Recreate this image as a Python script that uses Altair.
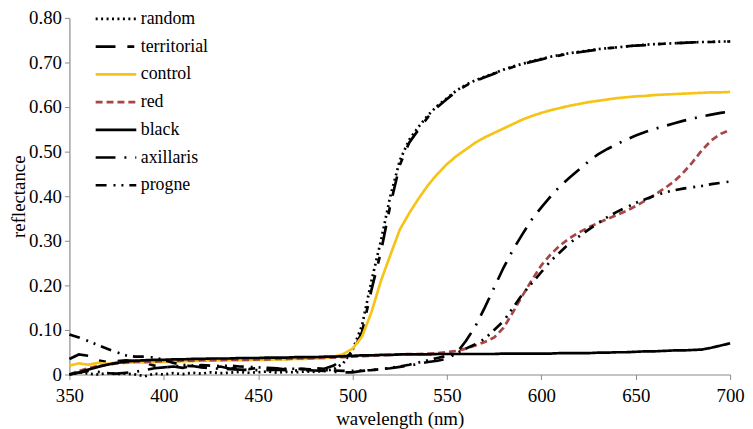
import altair as alt
import pandas as pd

wavelength = list(range(350, 701, 5))

random_ = [0.0,0.005,0.002,0.0,0.003,0.001,0.002,0.0,-0.004,0.002,
           0.0,0.003,0.001,0.004,0.002,0.005,0.003,0.004,0.006,0.004,
           0.005,0.007,0.004,0.006,0.005,0.007,0.006,0.008,0.012,0.025,
           0.055,0.11,0.21,0.30,0.40,0.48,0.527,0.556,0.582,0.603,
           0.62,0.637,0.65,0.66,0.668,0.676,0.684,0.691,0.697,0.703,
           0.708,0.713,0.717,0.721,0.724,0.727,0.73,0.732,0.734,0.736,
           0.738,0.74,0.741,0.742,0.743,0.744,0.745,0.746,0.746,0.747,0.747]
territorial = [0.035,0.045,0.042,0.032,0.028,0.03,0.032,0.03,0.026,0.02,
               0.016,0.018,0.015,0.02,0.017,0.014,0.018,0.013,0.016,0.012,
               0.015,0.012,0.014,0.011,0.013,0.012,0.014,0.013,0.02,0.035,
               0.05,0.095,0.19,0.275,0.38,0.47,0.52,0.55,0.578,0.60,
               0.618,0.635,0.648,0.658,0.667,0.675,0.683,0.69,0.696,0.702,
               0.707,0.712,0.716,0.72,0.723,0.726,0.729,0.732,0.734,0.736,
               0.738,0.739,0.741,0.742,0.743,0.744,0.745,0.746,0.746,0.747,0.747]
control = [0.02,0.025,0.022,0.026,0.024,0.027,0.026,0.028,0.027,0.028,
           0.028,0.029,0.03,0.03,0.031,0.031,0.032,0.032,0.032,0.033,
           0.033,0.033,0.034,0.034,0.035,0.035,0.036,0.037,0.04,0.046,
           0.058,0.085,0.14,0.21,0.268,0.325,0.362,0.395,0.425,0.45,
           0.472,0.49,0.505,0.52,0.532,0.542,0.552,0.562,0.572,0.58,
           0.587,0.593,0.598,0.603,0.607,0.611,0.614,0.617,0.62,0.622,
           0.624,0.625,0.627,0.628,0.629,0.63,0.631,0.632,0.633,0.633,0.634]
red = [0.0,0.008,0.014,0.019,0.022,0.025,0.027,0.028,0.028,0.029,
       0.03,0.03,0.031,0.031,0.032,0.032,0.032,0.033,0.033,0.033,
       0.034,0.034,0.035,0.035,0.036,0.036,0.037,0.037,0.038,0.039,
       0.04,0.041,0.042,0.043,0.044,0.045,0.046,0.046,0.047,0.048,
       0.05,0.053,0.058,0.065,0.073,0.083,0.105,0.14,0.177,0.212,
       0.245,0.27,0.29,0.306,0.319,0.33,0.34,0.349,0.358,0.367,
       0.378,0.39,0.403,0.417,0.432,0.452,0.476,0.503,0.525,0.54,0.549]
black = [0.0,0.005,0.011,0.017,0.022,0.026,0.029,0.031,0.032,0.033,
         0.033,0.034,0.034,0.035,0.035,0.036,0.036,0.036,0.037,0.037,
         0.037,0.038,0.038,0.038,0.039,0.039,0.039,0.04,0.04,0.041,
         0.042,0.043,0.043,0.044,0.044,0.045,0.045,0.045,0.045,0.046,
         0.046,0.046,0.046,0.046,0.046,0.046,0.047,0.047,0.047,0.047,
         0.047,0.047,0.048,0.048,0.048,0.048,0.049,0.049,0.05,0.05,
         0.051,0.052,0.052,0.053,0.054,0.054,0.055,0.056,0.06,0.065,0.07]
axillaris = [0.0,0.004,0.008,0.006,0.003,0.002,0.004,0.006,0.01,0.014,
             0.016,0.018,0.02,0.019,0.016,0.014,0.013,0.012,0.011,0.01,
             0.01,0.01,0.011,0.01,0.009,0.01,0.009,0.008,0.006,0.005,
             0.005,0.008,0.01,0.012,0.014,0.017,0.02,0.024,0.028,0.031,
             0.035,0.048,0.075,0.108,0.15,0.195,0.24,0.28,0.315,0.348,
             0.375,0.4,0.423,0.442,0.46,0.478,0.494,0.506,0.517,0.527,
             0.536,0.544,0.551,0.557,0.563,0.569,0.574,0.579,0.583,0.587,0.59]
progne = [0.09,0.083,0.075,0.066,0.058,0.05,0.043,0.04,0.04,0.038,
          0.033,0.026,0.022,0.02,0.021,0.02,0.019,0.02,0.018,0.017,
          0.016,0.015,0.014,0.013,0.013,0.012,0.011,0.01,0.009,0.008,
          0.008,0.009,0.01,0.012,0.015,0.018,0.022,0.027,0.032,0.037,
          0.042,0.048,0.058,0.068,0.08,0.1,0.12,0.15,0.18,0.205,
          0.23,0.255,0.275,0.295,0.31,0.325,0.34,0.353,0.365,0.375,
          0.385,0.393,0.401,0.408,0.413,0.417,0.42,0.423,0.427,0.43,0.433]

series_names = ["random", "territorial", "control", "red", "black", "axillaris", "progne"]
series_values = [random_, territorial, control, red, black, axillaris, progne]
series_colors = ["#000000", "#000000", "#F6C417", "#A84646", "#000000", "#000000", "#000000"]
series_dashes = [[2, 3.5], [20, 12, 7, 12], [1, 0], [7, 4], [1, 0], [20, 9, 2, 9], [11, 7, 2, 6, 2, 6]]

rows = []
for order, (name, vals) in enumerate(zip(series_names, series_values)):
    for w, v in zip(wavelength, vals):
        rows.append({"series": name, "wavelength": w, "reflectance": v, "order": order})
df = pd.DataFrame(rows)

FONT = "Liberation Serif, Times New Roman, Times, DejaVu Serif, serif"

legend_opts = dict(title=None, orient="none", legendX=38, legendY=-8,
                   symbolType="M-4.1,0H4.1", symbolSize=100,
                   symbolStrokeWidth=2.6, rowPadding=10,
                   labelFont=FONT, labelFontSize=18, labelColor="#000",
                   labelOffset=16)

chart = alt.Chart(df).mark_line(strokeWidth=2.7).encode(
    x=alt.X("wavelength:Q",
            scale=alt.Scale(domain=[350, 700], nice=False, zero=False),
            axis=alt.Axis(values=list(range(350, 701, 50)), title="wavelength (nm)",
                          grid=False, titlePadding=4, labelFlush=False, labelPadding=7)),
    y=alt.Y("reflectance:Q",
            scale=alt.Scale(domain=[0, 0.8], nice=False),
            axis=alt.Axis(values=[0, 0.1, 0.2, 0.3, 0.4, 0.5, 0.6, 0.7, 0.8],
                          labelExpr="datum.value == 0 ? '0' : format(datum.value, '.2f')",
                          title="reflectance", grid=False, titlePadding=0, labelPadding=3)),
    color=alt.Color("series:N", scale=alt.Scale(domain=series_names, range=series_colors),
                    legend=alt.Legend(**legend_opts)),
    strokeDash=alt.StrokeDash("series:N", scale=alt.Scale(domain=series_names, range=series_dashes),
                              legend=alt.Legend(**legend_opts)),
    order=alt.Order("order:Q"),
    detail="series:N",
).properties(
    width=667, height=360,
    autosize=alt.AutoSizeParams(type="none"),
    padding={"left": 62, "top": 8, "right": 15, "bottom": 53},
).configure_view(stroke=None).configure_axis(
    domainColor="#8a8a8a", tickColor="#8a8a8a", tickSize=5, domainWidth=1.2,
    labelFont=FONT, labelFontSize=19, labelColor="#000",
    titleFont=FONT, titleFontSize=19, titleColor="#000", titleFontWeight="normal",
).configure_legend(labelLimit=200)

chart.save("out.html", embed_options={"renderer": "svg", "actions": False})
